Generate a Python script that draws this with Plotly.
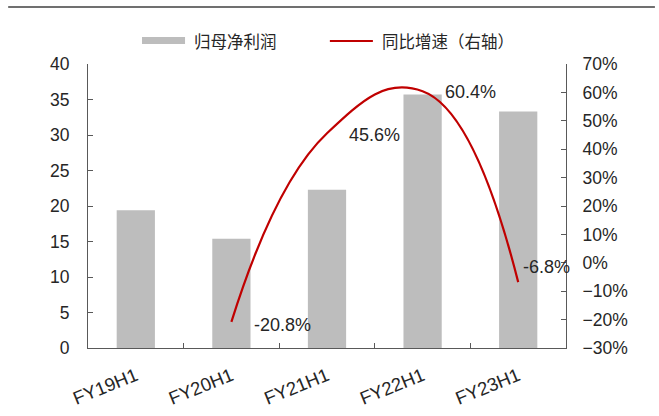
import plotly.graph_objects as go

# Half-year periods
categories = ["FY19H1", "FY20H1", "FY21H1", "FY22H1", "FY23H1"]
# 归母净利润 (left axis)
net_profit = [19.4, 15.4, 22.3, 35.7, 33.3]
# 同比增速, % (right axis); no prior-year base for FY19H1
yoy_growth = [None, -20.8, 45.6, 60.4, -6.8]

# Label offsets in pixels (dx, dy) for the growth labels
label_offsets = {1: (21, -3), 2: (20, -2), 3: (20, -1), 4: (3, 15)}

FONT = "Liberation Sans, Arial, Noto Sans CJK SC, sans-serif"
CJK_FONT = "Noto Sans CJK SC, Microsoft YaHei, sans-serif"
TEXT_COLOR = "#262626"
AXIS_COLOR = "#595959"
BAR_COLOR = "#BDBDBD"
LINE_COLOR = "#C00000"

fig = go.Figure()

fig.add_trace(go.Bar(
    x=categories, y=net_profit, name="归母净利润",
    marker=dict(color=BAR_COLOR, line=dict(width=0)),
    yaxis="y", showlegend=False,
))

fig.add_trace(go.Scatter(
    x=categories, y=yoy_growth, name="同比增速（右轴）",
    mode="lines", line=dict(color=LINE_COLOR, width=2.2, shape="spline", smoothing=1.3),
    yaxis="y2", connectgaps=False, showlegend=False,
))

annotations = []
for i, v in enumerate(yoy_growth):
    if v is None:
        continue
    dx, dy = label_offsets[i]
    annotations.append(dict(
        x=categories[i], y=v, xref="x", yref="y2",
        text=f"{v:.1f}%", showarrow=False,
        xanchor="left", yanchor="middle", xshift=dx, yshift=dy,
        font=dict(family=FONT, size=18, color=TEXT_COLOR),
    ))

# Legend drawn above the plot area
annotations += [
    dict(x=0.2176, y=1.081, xref="paper", yref="paper", text="归母净利润",
         showarrow=False, xanchor="left", yanchor="middle",
         font=dict(family=CJK_FONT, size=16.5, color=TEXT_COLOR)),
    dict(x=0.611, y=1.081, xref="paper", yref="paper", text="同比增速（右轴）",
         showarrow=False, xanchor="left", yanchor="middle",
         font=dict(family=CJK_FONT, size=16.5, color=TEXT_COLOR)),
]

shapes = [
    dict(type="rect", xref="paper", yref="paper", x0=0.113, x1=0.203, y0=1.0704, y1=1.095,
         fillcolor=BAR_COLOR, line=dict(width=0)),
    dict(type="line", xref="paper", yref="paper", x0=0.506, x1=0.596, y0=1.081, y1=1.081,
         line=dict(color=LINE_COLOR, width=2.2)),
    # header rule across the top
    dict(type="line", xref="paper", yref="paper", x0=-0.167, x1=1.186, y0=1.2007, y1=1.2007,
         line=dict(color="#404040", width=1.6)),
]

fig.update_layout(
    width=659, height=416,
    margin=dict(l=88, r=93, t=64, b=68, pad=0, autoexpand=False),
    paper_bgcolor="white", plot_bgcolor="white",
    bargap=0.6,
    font=dict(family=FONT, size=17, color=TEXT_COLOR),
    xaxis=dict(
        type="category", range=[-0.5, 4.5], automargin=False,
        showline=True, linecolor=AXIS_COLOR, linewidth=1.2,
        ticks="inside", tickson="boundaries", ticklen=5, tickcolor=AXIS_COLOR,
        tickangle=-22, tickfont=dict(size=18.5), ticklabelstandoff=9,
        showgrid=False, zeroline=False,
    ),
    yaxis=dict(
        range=[0, 40], dtick=5, tick0=0, automargin=False,
        showline=True, linecolor=AXIS_COLOR, linewidth=1.2,
        ticks="inside", ticklen=5, tickcolor=AXIS_COLOR, ticklabelstandoff=14,
        showgrid=False, zeroline=False, tickfont=dict(size=17.5),
    ),
    yaxis2=dict(
        range=[-30, 70], dtick=10, tick0=0, ticksuffix="%", automargin=False,
        overlaying="y", side="right",
        showline=True, linecolor=AXIS_COLOR, linewidth=1.2,
        ticks="inside", ticklen=5, tickcolor=AXIS_COLOR, ticklabelstandoff=12,
        showgrid=False, zeroline=False, tickfont=dict(size=17.5),
    ),
    annotations=annotations,
    shapes=shapes,
    showlegend=False,
)

fig.write_html("out.html")
